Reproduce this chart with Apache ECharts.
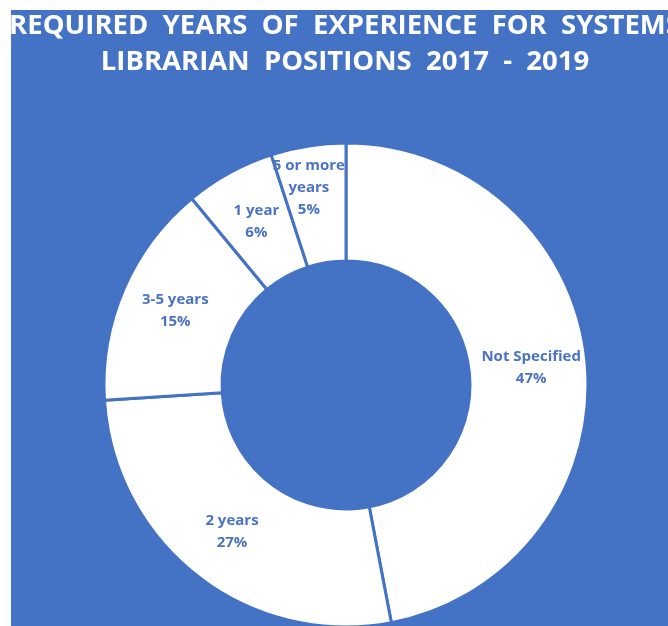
<!DOCTYPE html>
<html>
<head>
<meta charset="utf-8">
<script src="https://cdn.jsdelivr.net/npm/echarts@6/dist/echarts.min.js"></script>
<style>
  html, body { margin: 0; padding: 0; background: #ffffff; }
  #chart { width: 668px; height: 626px; }
</style>
</head>
<body>
<div id="chart"></div>
<script>
// Required years of experience, share of postings (%)
const categories = ['Not Specified', '2 years', '3-5 years', '1 year', '5 or more years'];
const shares = [47, 27, 15, 6, 5];
const titleLines = ['REQUIRED  YEARS  OF  EXPERIENCE  FOR  SYSTEMS', 'LIBRARIAN  POSITIONS  2017  -  2019'];

const BLUE = '#4472C4';
const LABEL_BLUE = '#4a74c2';
const FONT = '"Open Sans", Lato, sans-serif';

const chart = echarts.init(document.getElementById('chart'), null, { renderer: 'canvas' });

// wrap long category names onto two lines inside the ring
function wrapName(name) {
  return name.length > 14 ? name.replace(/ (\S+)$/, '\n$1') : name;
}

const pieData = categories.map((name, i) => ({ name: name, value: shares[i] }));

chart.setOption({
  backgroundColor: '#ffffff',
  animation: false,
  graphic: [
    {
      type: 'rect',
      z: -10,
      silent: true,
      shape: { x: 11, y: 10, width: 657, height: 616 },
      style: { fill: BLUE }
    },
    {
      type: 'text',
      z: 10,
      x: 345, y: 26,
      style: {
        text: titleLines[0],
        fill: '#ffffff',
        font: 'bold 27.5px ' + FONT,
        align: 'center',
        verticalAlign: 'middle'
      }
    },
    {
      type: 'text',
      z: 10,
      x: 345, y: 62,
      style: {
        text: titleLines[1],
        fill: '#ffffff',
        font: 'bold 27.5px ' + FONT,
        align: 'center',
        verticalAlign: 'middle'
      }
    }
  ],
  series: [{
    type: 'pie',
    center: [346, 385],
    radius: [124, 242],
    startAngle: 90,
    clockwise: true,
    avoidLabelOverlap: false,
    minShowLabelAngle: 0,
    itemStyle: {
      color: '#ffffff',
      borderColor: BLUE,
      borderWidth: 3
    },
    label: {
      show: true,
      position: 'inside',
      formatter: p => wrapName(p.name) + '\n' + p.percent + '%',
      color: LABEL_BLUE,
      fontFamily: FONT,
      fontWeight: 'bold',
      fontSize: 15,
      lineHeight: 22,
      align: 'center'
    },
    labelLayout: p => (p.dataIndex === 4 ? { dx: -8, dy: -14 } : {}),
    labelLine: { show: false },
    emphasis: { disabled: true },
    data: pieData
  }]
});
</script>
</body>
</html>
